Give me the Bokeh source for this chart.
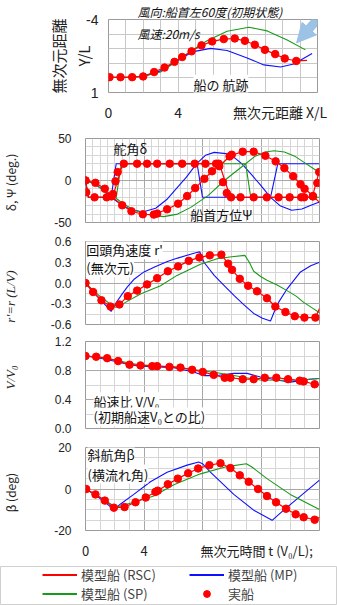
import math
from bokeh.plotting import figure
from bokeh.layouts import column, row
from bokeh.models import (Range1d, FixedTicker, PrintfTickFormatter, Label, Arrow,
                          NormalHead, Legend, LegendItem)
from bokeh.embed import file_html
from bokeh.resources import INLINE

# ---------------- data ----------------
# Panel 1: trajectory (X/L, Y/L)
traj_real_x = [0.06, 0.69, 1.36, 1.99, 2.62, 3.22, 3.79, 4.23, 4.77, 5.34, 5.95, 6.62, 7.25, 7.83, 8.40, 8.98, 9.57, 10.12, 10.78]
traj_real_y = [-0.05, -0.05, -0.05, -0.1, -0.4, -0.71, -1.10, -1.43, -1.82, -2.23, -2.50, -2.66, -2.70, -2.54, -2.27, -1.92, -1.63, -1.33, -1.16]
traj_rsc_x = [0.0, 0.69, 1.36, 1.99, 2.62, 3.22, 3.79, 4.23, 4.77, 5.34, 5.95, 6.62, 7.25, 7.83, 8.40, 8.98, 9.57, 10.12, 10.78, 11.4]
traj_rsc_y = [-0.05, -0.05, -0.05, -0.1, -0.4, -0.71, -1.10, -1.43, -1.82, -2.23, -2.50, -2.66, -2.70, -2.54, -2.27, -1.92, -1.63, -1.33, -1.16, -1.2]
traj_mp_x = [0.0, 1.0, 2.03, 2.99, 3.94, 4.80, 5.86, 6.81, 7.96, 8.92, 9.88, 10.64, 11.69]
traj_mp_y = [-0.03, -0.03, -0.11, -0.48, -1.16, -1.78, -2.02, -1.88, -1.37, -0.89, -0.75, -0.95, -1.67]
traj_sp_x = [0.0, 1.0, 2.03, 2.99, 3.94, 4.80, 5.66, 6.81, 8.06, 9.11, 10.26, 11.31]
traj_sp_y = [-0.03, -0.03, -0.11, -0.40, -1.16, -1.90, -2.55, -3.20, -3.47, -3.22, -2.60, -1.92]

# Panel 2: rudder angle delta and heading psi (deg)
delta_real_t = [0, 0.05, 0.62, 1.45, 1.88, 2.05, 2.2, 2.62, 3.53, 4.21, 4.90, 5.76, 6.61, 7.47, 8.2, 8.93, 9.11, 9.4, 9.66, 9.95, 10.6, 11.5, 12.4, 13.2, 13.96, 14.75, 14.95, 15.55, 15.85, 15.98]
delta_real_v = [0, -14, -20, -20, -16, -1, 10, 20, 20, 20, 20, 20, 20, 20, 20, 20, 20, -2, -15, -20, -20, -20, -20, -20, -20, -20, -20, -19, -3, 10]
psi_real_t = [0, 0.68, 1.32, 1.78, 2.51, 3.14, 3.92, 4.67, 4.90, 5.58, 6.33, 6.95, 7.50, 8.13, 8.65, 9.15, 9.85, 10.0, 10.75, 11.5, 12.3, 13.0, 13.6, 14.2, 14.7, 14.98, 15.55]
psi_real_v = [0, -2.8, -9.8, -18.9, -29.5, -36.6, -40.2, -40.6, -39.4, -34.3, -27.6, -18.5, -9.0, 2.0, 11.0, 17.0, 28.7, 30.7, 34.3, 34.3, 29.5, 22.8, 14.8, 5.1, -4.5, -9.9, -18.5]
delta_rsc_t = [0, 0.2, 1.85, 2.55, 9.15, 9.9, 15.5, 16.0]
delta_rsc_v = [0, -20, -20, 20, 20, -20, -20, 12]
psi_rsc_t = [0, 0.68, 1.32, 1.78, 2.51, 3.14, 3.92, 4.67, 5.58, 6.33, 6.95, 7.50, 8.13, 8.65, 9.15, 9.9, 10.75, 11.5, 12.3, 13.0, 13.6, 14.2, 14.7, 15.0, 15.55, 16.0]
psi_rsc_v = [0, -2.8, -9.8, -18.9, -29.5, -36.6, -40.2, -40.6, -34.3, -27.6, -18.5, -9.0, 2.0, 11.0, 17.0, 29.5, 34.3, 34.3, 29.5, 22.8, 14.8, 5.1, -4.5, -9.9, -18.5, -26.0]
delta_mp_t = [0, 0.2, 1.75, 2.1, 7.63, 8.0, 12.65, 13.15, 16]
delta_mp_v = [0, -20, -20, 20, 20, -20, -20, 20, 20]
psi_mp_t = [0, 0.6, 1.2, 1.75, 2.3, 3.0, 3.9, 4.8, 5.6, 6.3, 6.9, 7.6, 8.2, 8.8, 9.6, 10.2, 10.7, 11.4, 12.0, 12.65, 13.3, 14.1, 14.8, 15.5, 16.0]
psi_mp_v = [0, -4, -11, -20, -27, -34, -37.5, -33, -22, -8, 4, 20, 30, 33.5, 32, 27, 19.7, 6, -6, -20, -30, -35.5, -34, -29, -25.6]
delta_sp_t = [0, 0.2, 2.1, 2.45, 10.95, 11.3, 16]
delta_sp_v = [0, -20, -20, 20, 20, -20, -20]
psi_sp_t = [0, 0.6, 1.2, 2.0, 2.6, 3.3, 4.2, 5.35, 6.3, 7.2, 8.4, 9.5, 10.95, 11.6, 12.3, 12.9, 13.6, 14.3, 15.0, 15.6, 16.0]
psi_sp_v = [0, -4, -11, -20, -28, -35, -40.5, -43, -40, -32, -17.7, 0, 20, 29, 34, 35.5, 34, 29, 21, 14, 9.8]

# Panel 3: non-dimensional yaw rate r'
r_real_t = [0, 0.52, 1.09, 1.71, 2.32, 2.89, 3.53, 4.21, 4.90, 5.63, 6.33, 7.06, 7.79, 8.50, 9.29, 9.75, 10.02, 10.55, 11.12, 11.73, 12.41, 12.98, 13.67, 14.31, 14.97, 15.72]
r_real_v = [0, -0.13, -0.25, -0.34, -0.31, -0.19, -0.11, -0.02, 0.07, 0.17, 0.24, 0.32, 0.37, 0.40, 0.41, 0.28, 0.19, 0.06, -0.04, -0.12, -0.22, -0.34, -0.42, -0.48, -0.50, -0.50]
r_rsc_t = [0, 0.52, 1.09, 1.71, 2.32, 2.89, 3.53, 4.21, 4.90, 5.63, 6.33, 7.06, 7.79, 8.50, 9.29, 9.75, 10.02, 10.55, 11.12, 11.73, 12.41, 12.98, 13.67, 14.31, 14.97, 15.72, 16.0]
r_rsc_v = [0, -0.13, -0.25, -0.34, -0.31, -0.19, -0.11, -0.02, 0.07, 0.17, 0.24, 0.32, 0.37, 0.40, 0.41, 0.28, 0.19, 0.06, -0.04, -0.12, -0.22, -0.34, -0.42, -0.48, -0.50, -0.50, -0.37]
r_mp_t = [0, 0.5, 1.0, 1.5, 1.75, 2.05, 2.5, 2.85, 3.3, 4.0, 4.8, 5.6, 6.3, 6.95, 7.6, 7.82, 8.1, 8.8, 9.5, 10.15, 10.8, 11.5, 12.1, 12.65, 12.9, 13.2, 13.8, 14.7, 15.4, 16.0]
r_mp_v = [0, -0.12, -0.24, -0.35, -0.41, -0.30, -0.16, -0.06, 0.05, 0.16, 0.24, 0.31, 0.36, 0.40, 0.44, 0.45, 0.30, 0.11, -0.04, -0.18, -0.31, -0.44, -0.51, -0.55, -0.42, -0.28, -0.08, 0.16, 0.25, 0.30]
r_sp_t = [0, 0.5, 1.03, 1.6, 2.05, 2.4, 2.73, 3.76, 5.13, 6.26, 7.86, 9.0, 10.0, 10.9, 11.2, 11.5, 12.0, 12.41, 13.1, 13.78, 14.4, 14.92, 15.5, 16.0]
r_sp_v = [0, -0.10, -0.20, -0.29, -0.35, -0.32, -0.28, -0.16, -0.04, 0.11, 0.27, 0.35, 0.38, 0.40, 0.30, 0.17, 0.09, 0.04, -0.03, -0.11, -0.19, -0.28, -0.36, -0.43]

# Panel 4: speed ratio V/V0
v_real_t = [0, 0.73, 1.48, 2.23, 3.01, 3.76, 4.56, 4.90, 5.74, 6.49, 7.29, 8.02, 8.77, 9.52, 9.91, 10.75, 11.50, 12.26, 13.05, 13.85, 14.65, 14.92, 15.67]
v_real_v = [1.0, 0.99, 0.97, 0.93, 0.88, 0.87, 0.86, 0.86, 0.85, 0.84, 0.81, 0.78, 0.74, 0.70, 0.70, 0.68, 0.68, 0.70, 0.70, 0.68, 0.66, 0.65, 0.61]
v_rsc_t = [0, 0.73, 1.48, 2.23, 3.01, 3.76, 4.56, 4.90, 5.74, 6.49, 7.29, 8.02, 8.77, 9.52, 9.91, 10.75, 11.50, 12.26, 13.05, 13.85, 14.65, 14.92, 15.67, 16.0]
v_rsc_v = [1.0, 0.99, 0.97, 0.93, 0.88, 0.87, 0.86, 0.86, 0.85, 0.84, 0.81, 0.78, 0.74, 0.70, 0.70, 0.68, 0.68, 0.70, 0.70, 0.68, 0.66, 0.65, 0.61, 0.60]
v_mp_t = [0, 1.0, 2.16, 3.0, 3.76, 5.0, 6.04, 7.4, 8.09, 9.0, 10.14, 11.05, 11.96, 13.1, 14.0, 14.69, 15.3, 16.0]
v_mp_v = [1.0, 0.97, 0.92, 0.88, 0.86, 0.85, 0.84, 0.78, 0.73, 0.73, 0.76, 0.76, 0.71, 0.67, 0.64, 0.66, 0.68, 0.69]
v_sp_t = [0, 1.0, 2.16, 3.0, 3.76, 5.0, 6.04, 7.86, 9.0, 10.14, 11.0, 11.96, 13.55, 14.69, 16.0]
v_sp_v = [1.0, 0.98, 0.94, 0.90, 0.88, 0.86, 0.85, 0.80, 0.77, 0.73, 0.70, 0.67, 0.665, 0.67, 0.69]

# Panel 5: drift angle beta (deg)
b_real_t = [0.05, 0.68, 1.32, 1.94, 2.67, 3.42, 4.12, 4.78, 4.94, 5.63, 6.31, 7.02, 7.70, 8.47, 9.23, 9.91, 10.55, 11.16, 11.80, 12.41, 13.03, 13.71, 14.37, 14.92, 15.67]
b_real_v = [0, -2.6, -5.6, -9.0, -8.7, -6.4, -4.1, -1.4, -0.8, 2.3, 5.0, 7.6, 9.9, 11.5, 12.4, 10.1, 6.6, 3.5, 0, -3.4, -6.4, -9.5, -12.2, -13.6, -14.8]
b_rsc_t = [0.05, 0.68, 1.32, 1.94, 2.67, 3.42, 4.12, 4.78, 4.94, 5.63, 6.31, 7.02, 7.70, 8.47, 9.23, 9.91, 10.55, 11.16, 11.80, 12.41, 13.03, 13.71, 14.37, 14.92, 15.67, 16.0]
b_rsc_v = [0, -2.6, -5.6, -9.0, -8.7, -6.4, -4.1, -1.4, -0.8, 2.3, 5.0, 7.6, 9.9, 11.5, 12.4, 10.1, 6.6, 3.5, 0, -3.4, -6.4, -9.5, -12.2, -13.6, -14.8, -13.6]
b_mp_t = [0, 0.7, 1.4, 1.94, 2.4, 3.3, 4.44, 5.58, 6.95, 7.74, 8.0, 8.54, 10.14, 11.5, 12.76, 13.55, 14.69, 16.0]
b_mp_v = [0, -3, -6.8, -9.9, -7.2, -2.6, 3.5, 8.1, 11.5, 13.0, 12.2, 8.1, -2.6, -10.2, -15.1, -10.2, -3.4, 4.3]
b_sp_t = [0, 0.7, 1.4, 2.05, 2.5, 3.3, 4.67, 6.04, 7.86, 9.68, 11.0, 11.4, 12.41, 14.0, 16.0]
b_sp_v = [0, -2.8, -5.8, -8.7, -8.0, -6.4, -3.4, 2.0, 7.3, 10.8, 12.2, 10.5, 5.0, -2.6, -9.9]

# axis text
x1_title = "無次元距離 X/L"
x5_title = "無次元時間 t (V₀/L);"
legend_labels = ["模型船 (RSC)", "模型船 (MP)", "模型船 (SP)", "実船"]

# ---------------- style ----------------
JP = "Noto Sans CJK JP"
NUM = "Liberation Sans"
RED, BLUE, GREEN = "#ff0000", "#1010ff", "#1a9a1a"
GRID_MINOR = "#d6d6d6"
GRID_MAJOR = "#a8a8a8"
FRAME = "#9a9a9a"
W = 337
LW = 20          # width of the strip holding the vertical axis titles
PW = W - LW      # width of panels 2-5


def make_fig(width, height, top, bottom, left, right, xr, yr, **kw):
    p = figure(width=width, height=height, x_range=xr, y_range=yr,
               output_backend="svg", toolbar_location=None, frame_align=False,
               min_border_top=top, min_border_bottom=bottom,
               min_border_left=left, min_border_right=right, **kw)
    p.outline_line_color = FRAME
    p.background_fill_color = "white"
    p.border_fill_color = "white"
    for ax in p.axis:
        ax.axis_line_color = None
        ax.major_tick_line_color = None
        ax.minor_tick_line_color = None
        ax.major_tick_out = 0
        ax.major_tick_in = 0
        ax.minor_tick_out = 0
        ax.major_label_text_font = NUM
        ax.major_label_text_color = "#222222"
        ax.major_label_text_font_size = "12px"
        ax.major_label_standoff = 14
        ax.axis_label_text_font = JP
        ax.axis_label_text_font_style = "normal"
        ax.axis_label_text_font_size = "12px"
        ax.axis_label_text_color = "#222222"
    return p


def ylab_fig(height, text, yc, font=JP, size="12px", style="normal"):
    f = figure(width=LW, height=height, output_backend="svg", toolbar_location=None,
               frame_align=False, x_range=Range1d(0, LW), y_range=Range1d(0, height),
               min_border_top=0, min_border_bottom=0, min_border_left=0, min_border_right=0)
    f.axis.visible = False
    f.grid.visible = False
    f.outline_line_color = None
    f.border_fill_color = "white"
    f.add_layout(Label(x=10, y=height - yc, text=text, angle=math.pi / 2,
                       text_align="center", text_baseline="middle",
                       text_font=font, text_font_size=size, text_font_style=style,
                       text_color="#222222"))
    return f


def set_grid(p, xmaj, xmin, ymaj, ymin, xmajcol=GRID_MAJOR, ymajcol=GRID_MAJOR):
    xt = FixedTicker(ticks=xmaj, minor_ticks=xmin)
    yt = FixedTicker(ticks=ymaj, minor_ticks=ymin)
    p.xgrid.ticker = xt
    p.ygrid.ticker = yt
    p.yaxis.ticker = FixedTicker(ticks=ymaj)
    p.xgrid.grid_line_color = xmajcol
    p.ygrid.grid_line_color = ymajcol
    p.xgrid.minor_grid_line_color = GRID_MINOR
    p.ygrid.minor_grid_line_color = GRID_MINOR


def label(p, x, y, text, size="13px", font=JP, align="left",
          baseline="middle", style="normal", bg=None):
    lb = Label(x=x, y=y, text=text, text_font=font, text_font_size=size,
               text_align=align, text_baseline=baseline,
               text_font_style=style, text_color="#111111")
    if bg is not None:
        lb.background_fill_color = bg
    p.add_layout(lb)


def series(p, mp, sp, rsc, real):
    p.line(mp[0], mp[1], color=BLUE, line_width=1.1)
    p.line(sp[0], sp[1], color=GREEN, line_width=1.1)
    p.line(rsc[0], rsc[1], color=RED, line_width=1.2)
    p.scatter(real[0], real[1], size=7.5, color=RED)


ints16 = list(range(0, 17))

# ---------------- panel 1 ----------------
p1 = make_fig(W, 124, 16, 27, 108, 20, Range1d(0, 12), Range1d(1, -4),
              title="風向:船首左60度(初期状態)")
p1.title.align = "left"
p1.title.offset = 29
p1.title.standoff = 0
p1.title.text_font = JP
p1.title.text_font_size = "12px"
p1.title.text_font_style = "italic"
p1.title.text_color = "#111111"
set_grid(p1, list(range(0, 13)), list(range(0, 13)), [-4, 1], [-4, -3, -2, -1, 0, 1],
         xmajcol="#c8c8c8", ymajcol="#c8c8c8")
p1.xgrid.minor_grid_line_color = "#c8c8c8"
p1.ygrid.minor_grid_line_color = "#c8c8c8"
p1.xaxis.ticker = FixedTicker(ticks=[0, 4, 9.85])
p1.xaxis.major_label_overrides = {9.85: x1_title}
p1.yaxis.major_label_overrides = {-4: "-4", 1: "1"}
for ax in p1.axis:
    ax.major_label_text_font_size = "14px"
p1.xaxis.major_label_text_font = JP
p1.yaxis.major_label_standoff = 10
p1.xaxis.major_label_standoff = 9
p1.yaxis.axis_label = "無次元距離\nY/L"
p1.yaxis.axis_label_text_font_size = "15px"
p1.yaxis.axis_label_standoff = -11
series(p1, (traj_mp_x, traj_mp_y), (traj_sp_x, traj_sp_y),
       (traj_rsc_x, traj_rsc_y), (traj_real_x, traj_real_y))
label(p1, 1.66, -3.01, "風速:20m/s", size="12px", style="italic")
label(p1, 4.88, 0.44, "船の 航跡", size="13px", bg="white")
p1.add_layout(Arrow(x_start=11.97, y_start=-3.97, x_end=10.8, y_end=-2.4,
                    line_width=9, line_color="#9cc2e5",
                    end=NormalHead(size=19, fill_color="#9cc2e5", line_color="#9cc2e5")))

# ---------------- panel 2 ----------------
p2 = make_fig(PW, 106, 14, 8, 85 - LW, 18, Range1d(0, 16), Range1d(-50, 50))
set_grid(p2, [0, 4, 8, 12, 16], [i * 0.5 for i in range(33)],
         [-50, 0, 50], list(range(-50, 51, 10)))
p2.xaxis.visible = False
p2.yaxis.major_label_overrides = {-50: "-50"}
p2.line(delta_mp_t, delta_mp_v, color=BLUE, line_width=1.1)
p2.line(psi_mp_t, psi_mp_v, color=BLUE, line_width=1.1)
p2.line(delta_sp_t, delta_sp_v, color=GREEN, line_width=1.1)
p2.line(psi_sp_t, psi_sp_v, color=GREEN, line_width=1.1)
p2.line(delta_rsc_t, delta_rsc_v, color=RED, line_width=1.2)
p2.line(psi_rsc_t, psi_rsc_v, color=RED, line_width=1.2)
p2.scatter(delta_real_t, delta_real_v, size=7.5, color=RED)
p2.scatter(psi_real_t, psi_real_v, size=7.5, color=RED)
label(p2, 1.91, 37.8, "舵角δ")
label(p2, 7.17, -40.5, "船首方位Ψ")
y2 = ylab_fig(106, "δ, Ψ (deg.)", 58)

# ---------------- panel 3 ----------------
p3 = make_fig(PW, 102, 11, 8, 85 - LW, 18, Range1d(0, 16), Range1d(-0.6, 0.6))
set_grid(p3, [0, 4, 8, 12, 16], ints16,
         [-0.6, -0.3, 0, 0.3, 0.6], [-0.6, -0.45, -0.3, -0.15, 0, 0.15, 0.3, 0.45, 0.6])
p3.xaxis.visible = False
p3.yaxis.formatter = PrintfTickFormatter(format="%.1f")
series(p3, (r_mp_t, r_mp_v), (r_sp_t, r_sp_v), (r_rsc_t, r_rsc_v), (r_real_t, r_real_v))
label(p3, 0.05, 0.48, "回頭角速度 r'", bg="white")
label(p3, 0.05, 0.22, "(無次元)", bg="white")
y3 = ylab_fig(102, "r'=r (L/V)", 66, font="Liberation Serif", size="13px", style="italic")

# ---------------- panel 4 ----------------
p4 = make_fig(PW, 104, 9, 8, 85 - LW, 18, Range1d(0, 16), Range1d(0, 1.2))
set_grid(p4, [0, 4, 8, 12, 16], ints16,
         [0, 0.4, 0.8, 1.2], [0, 0.2, 0.4, 0.6, 0.8, 1.0, 1.2])
p4.xaxis.visible = False
p4.yaxis.formatter = PrintfTickFormatter(format="%.1f")
series(p4, (v_mp_t, v_mp_v), (v_sp_t, v_sp_v), (v_rsc_t, v_rsc_v), (v_real_t, v_real_v))
label(p4, 0.55, 0.37, "船速比 V/V₀", bg="white")
label(p4, 0.55, 0.16, "(初期船速V₀との比)", bg="white")
y4 = ylab_fig(104, "V/V₀", 45, font="Liberation Serif", size="13px", style="italic")

# ---------------- panel 5 ----------------
p5 = make_fig(PW, 126, 11, 28, 85 - LW, 18, Range1d(0, 16), Range1d(-20, 20))
set_grid(p5, [0, 4, 8, 12, 16], ints16,
         [-20, 0, 20], list(range(-20, 21, 5)))
p5.xaxis.ticker = FixedTicker(ticks=[0, 4, 11.7])
p5.xaxis.major_label_overrides = {11.7: x5_title}
p5.xaxis.major_label_standoff = 10
p5.xaxis.major_label_text_font = JP
p5.xaxis.major_label_text_font_size = "13px"
p5.yaxis.major_label_overrides = {-20: "-20"}
series(p5, (b_mp_t, b_mp_v), (b_sp_t, b_sp_v), (b_rsc_t, b_rsc_v), (b_real_t, b_real_v))
label(p5, 0.14, 16.4, "斜航角β", bg="white")
label(p5, 0.14, 7.2, "(横流れ角)", bg="white")
y5 = ylab_fig(126, "β (deg)", 56)

# ---------------- legend ----------------
pl = figure(width=W, height=43, output_backend="svg", toolbar_location=None,
            frame_align=False, x_range=Range1d(100, 101), y_range=Range1d(100, 101),
            min_border_top=4, min_border_bottom=0, min_border_left=0, min_border_right=0)
pl.axis.visible = False
pl.grid.visible = False
pl.outline_line_color = "#d0d0d0"
pl.border_fill_color = "white"
lr = pl.line(b_rsc_t, b_rsc_v, color=RED, line_width=2)
lb_ = pl.line(b_mp_t, b_mp_v, color=BLUE, line_width=2)
lg = pl.line(b_sp_t, b_sp_v, color=GREEN, line_width=2)
ld = pl.scatter(b_real_t, b_real_v, size=7, color=RED)
legend = Legend(items=[LegendItem(label=legend_labels[0], renderers=[lr]),
                       LegendItem(label=legend_labels[1], renderers=[lb_]),
                       LegendItem(label=legend_labels[2], renderers=[lg]),
                       LegendItem(label=legend_labels[3], renderers=[ld])],
                orientation="horizontal", ncols=2, location=(42, 2),
                glyph_width=35, glyph_height=17, label_height=17, label_width=108,
                label_standoff=4, spacing=0, padding=0, margin=0,
                border_line_color=None, background_fill_alpha=0,
                label_text_font=JP, label_text_font_size="13px")
pl.add_layout(legend)

layout = column(p1,
                row(y2, p2, spacing=0),
                row(y3, p3, spacing=0),
                row(y4, p4, spacing=0),
                row(y5, p5, spacing=0),
                pl, spacing=0)
open("out.html", "w").write(file_html(layout, INLINE))
